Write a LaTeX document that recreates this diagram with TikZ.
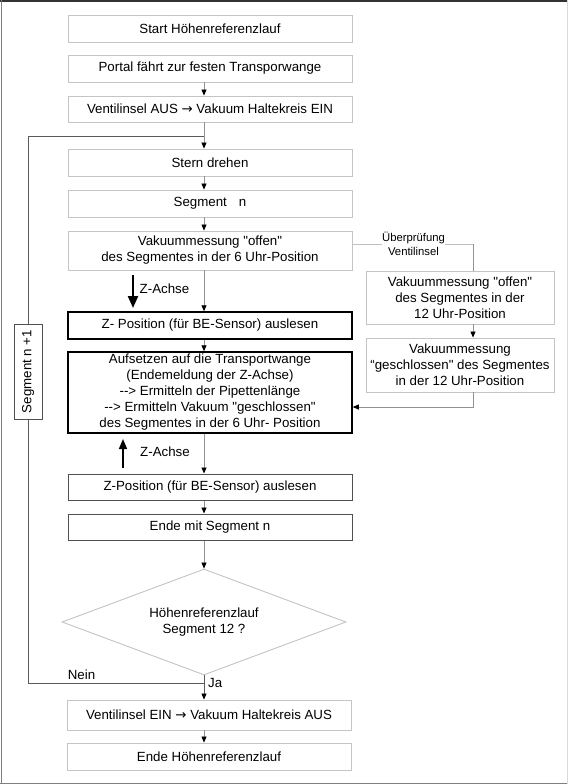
\documentclass[tikz,border=0pt]{standalone}
\usepackage{fontspec}
\setmainfont{Liberation Sans}[Ligatures=TeXOff]
\newfontfamily\arr{DejaVu Sans}
\usetikzlibrary{arrows.meta,shapes.geometric,calc}
\definecolor{boxgray}{HTML}{C4C4C4}
\definecolor{linegray}{HTML}{939393}
\definecolor{lightline}{HTML}{C0C0C0}
\definecolor{darkgray2}{HTML}{505050}
\definecolor{loopgray}{HTML}{5A5A5A}
\begin{document}
\begin{tikzpicture}[x=1pt,y=-1pt,
  every node/.style={font=\fontsize{13.3}{16}\selectfont, inner sep=0pt, align=center},
  lbox/.style={draw=boxgray, line width=0.9pt, fill=white, minimum width=284pt},
  kbox/.style={draw=black, line width=1.5pt, fill=white, minimum width=284pt},
  gbox/.style={draw=darkgray2, line width=1pt, fill=white, minimum width=284pt},
  rbox/.style={draw=boxgray, line width=0.9pt, fill=white, minimum width=188pt},
  conn/.style={draw=linegray, line width=0.8pt, -{Triangle[length=6pt,width=5pt,color=black]}},
  loopline/.style={draw=loopgray, line width=0.9pt},
  lbl/.style={fill=white, inner sep=0pt}
]
\useasboundingbox (0,0) rectangle (568,784);
\fill[white] (0,0) rectangle (568,784);
% frame
\draw[draw=black!80, line width=2pt] (0,1) -- (568,1);
\draw[draw=black!50, line width=1pt] (1,0) -- (1,784);
\draw[draw=black!50, line width=1pt] (0,783) -- (568,783);
\draw[draw=black!15, line width=1pt] (567,0) -- (567,784);

% guide coordinates
\coordinate (ax) at (204,0);
\coordinate (rx) at (473,0);
\coordinate (ty) at (204,136);
\coordinate (ny) at (204,683);
\coordinate (uy) at (0,244);
\coordinate (ly) at (0,407);

% main column
\node[lbox, minimum height=27pt] (b1) at (210,28.5) {Start Höhenreferenzlauf};
\node[lbox, minimum height=27pt] (b2) at (210,68.5) {Portal fährt zur festen Transporwange};
\node[lbox, minimum height=26pt] (b3) at (210,109) {Ventilinsel AUS {\arr →} Vakuum Haltekreis EIN};
\node[lbox, minimum height=27pt] (b4) at (210,162.5) {Stern drehen};
\node[lbox, minimum height=27pt] (b5) at (210,203.5) {Segment\hspace{12pt}n};
\node[lbox, minimum height=39pt] (b6) at (210,250.5) {Vakuummessung "offen"\\des Segmentes in der 6 Uhr-Position};
\node[kbox, minimum height=27pt] (b7) at (210,325.5) {Z- Position (für BE-Sensor) auslesen};
\node[kbox, minimum height=81pt] (b8) at (210,392.5) {Aufsetzen auf die Transportwange\\(Endemeldung der Z-Achse)\\\mbox{-}\mbox{-}> Ermitteln der Pipettenlänge\\\mbox{-}\mbox{-}> Ermitteln Vakuum "geschlossen"\\des Segmentes in der 6 Uhr- Position};
\node[gbox, minimum height=26pt] (b9) at (210,487) {Z-Position (für BE-Sensor) auslesen};
\node[gbox, minimum height=26pt] (b10) at (210,527) {Ende mit Segment n};
\node[diamond, draw=boxgray, line width=0.9pt, fill=white, aspect=2.68, minimum width=284pt, minimum height=106pt] (d) at (204,622) {\raisebox{-3pt}{\parbox{120pt}{\centering Höhenreferenzlauf\\Segment 12 ?}}};
\node[lbox, minimum height=30pt] (b11) at (209,715) {Ventilinsel EIN {\arr →} Vakuum Haltekreis AUS};
\node[lbox, minimum height=27pt] (b12) at (209,756.5) {Ende Höhenreferenzlauf};

% right branch
\node[rbox, minimum height=53pt] (r1) at (460,297.5) {Vakuummessung "offen"\\des Segmentes in der\\12 Uhr-Position};
\node[rbox, minimum height=54pt] (r2) at (460,365) {Vakuummessung\\“geschlossen" des Segmentes\\in der 12 Uhr-Position};

% loop box
\node[draw=darkgray2, line width=1pt, fill=white, rotate=90, minimum width=95pt, minimum height=28pt] (seg) at (28,371.5) {Segment n +1};

% connectors main
\draw[conn] (b2.south -| ax) -- (b3.north -| ax);
\draw[conn] (b3.south -| ax) -- (b4.north -| ax);
\draw[conn] (b4.south -| ax) -- (b5.north -| ax);
\draw[conn] (b5.south -| ax) -- (b6.north -| ax);
\draw[conn] (b6.south -| ax) -- (b7.north -| ax);
\draw[conn] (b7.south -| ax) -- (b8.north -| ax);
\draw[conn] (b8.south -| ax) -- (b9.north -| ax);
\draw[conn] (b9.south -| ax) -- (b10.north -| ax);
\draw[conn] (b10.south -| ax) -- (d.north);
\draw[conn, draw=loopgray] (d.south) -- (b11.north -| ax);
\draw[conn] (b11.south -| ax) -- (b12.north -| ax);

% loop
\draw[loopline] (ny) -| (seg.west);
\draw[loopline] (seg.east) |- (ty);

% right branch connectors
\draw[draw=lightline, line width=0.8pt] (b6.east |- uy) -- (uy -| rx);
\draw[draw=linegray, line width=0.8pt] (uy -| rx) -- (r1.north -| rx);
\node[lbl, font=\fontsize{11.3}{14}\selectfont] (ub) at (413.5,244) {Überprüfung\\Ventilinsel};
\draw[conn] (r1.south -| rx) -- (r2.north -| rx);
\draw[conn] (r2.south -| rx) |- (b8.east |- ly);

% Z-Achse arrows
\coordinate (za1) at (133,275);
\coordinate (za2) at (133,308);
\draw[line width=2.2pt, -{Triangle[length=12pt,width=10pt]}] (za1) -- (za2);
\node (zl1) at (164.5,289) {Z-Achse};
\coordinate (zb1) at (123,468);
\coordinate (zb2) at (123,439);
\draw[line width=1.6pt, -{Triangle[length=10pt,width=8pt]}] (zb1) -- (zb2);
\node (zl2) at (165,452) {Z-Achse};

% branch labels
\node (nein) at (81.5,675) {Nein};
\node[anchor=west] (ja) at (208,683) {Ja};
\end{tikzpicture}
\end{document}
